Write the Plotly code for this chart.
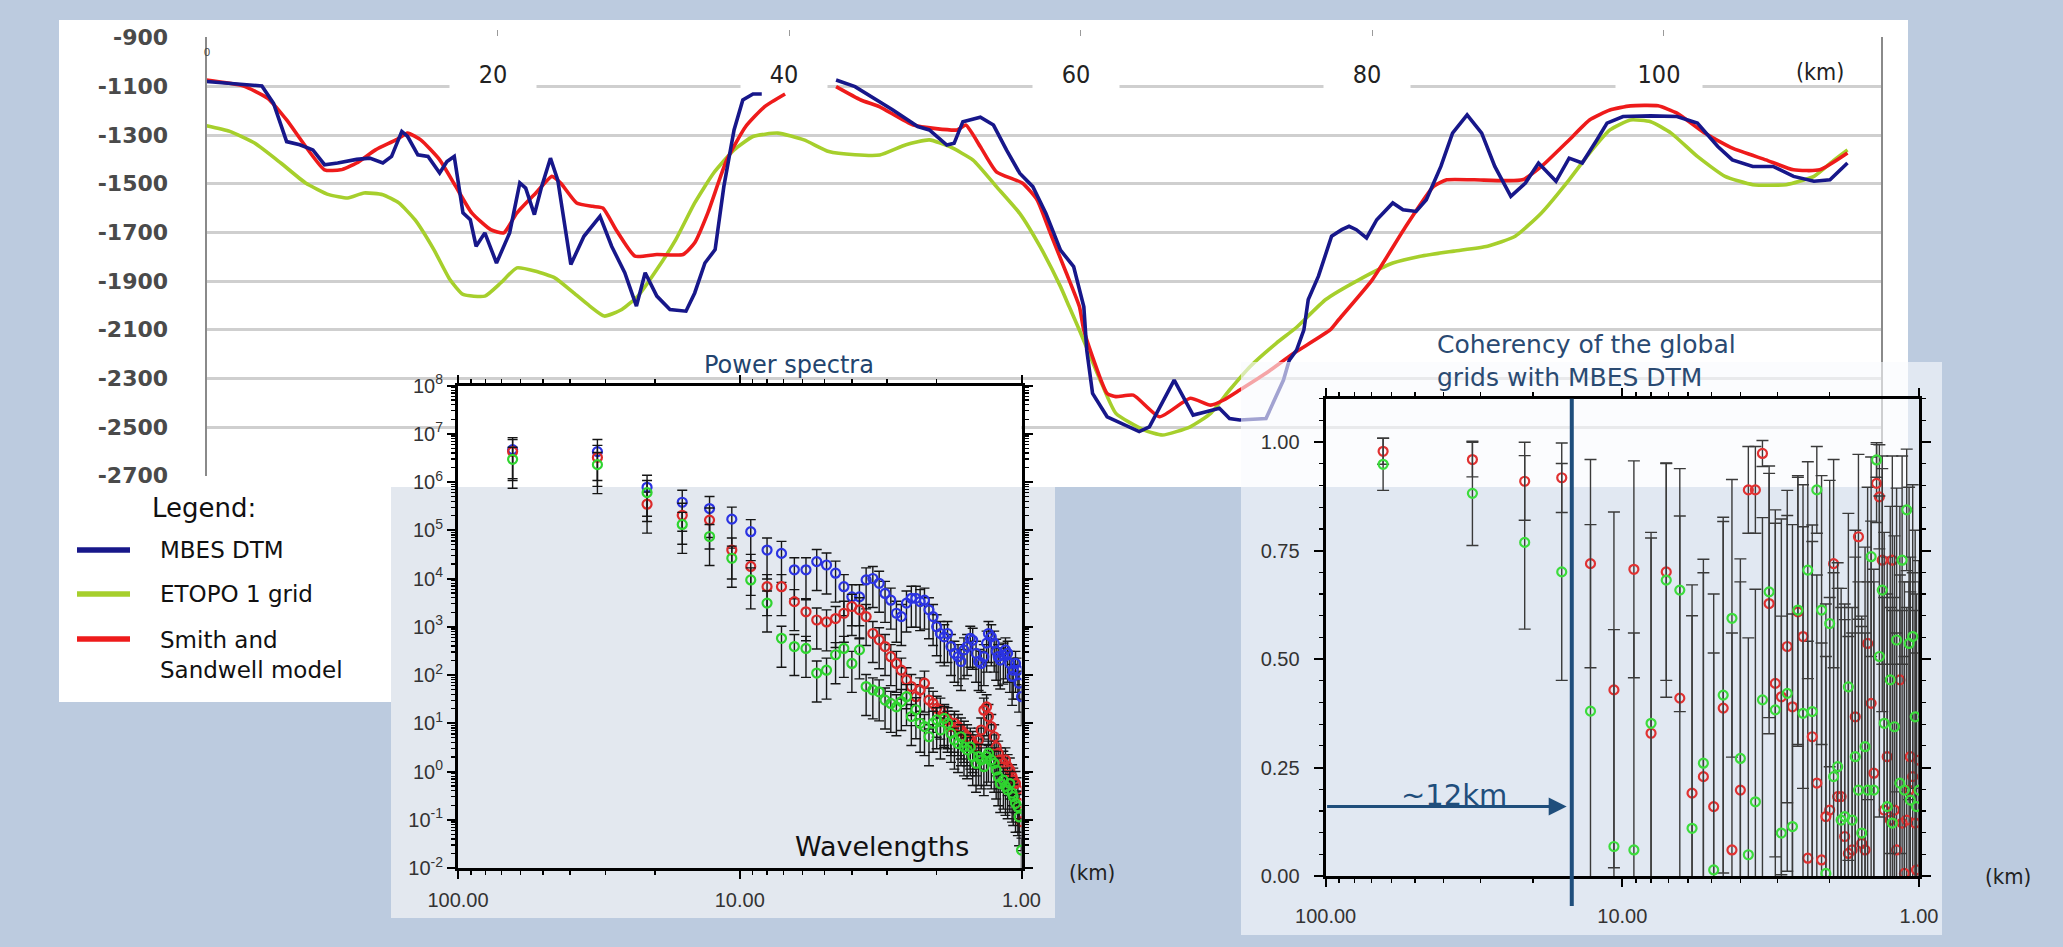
import math
import plotly.graph_objects as go

W, H = 2063, 947

# ---------------- depth profile (top chart) ----------------
PROFILE_TICK_KM = [20, 40, 60, 80, 100]
DEPTH_TICKS = [-900, -1100, -1300, -1500, -1700, -1900, -2100, -2300, -2500, -2700]

MBES_PROFILE = [
    (0, -1080), (3.8, -1098), (4.6, -1170), (5.5, -1327), (6.4, -1340), (7.3, -1361), (8.1, -1422),
    (9.0, -1415), (10.3, -1400), (11.2, -1395), (12.1, -1415), (12.7, -1388), (13.4, -1285), (13.8, -1306),
    (14.5, -1381), (15.2, -1388), (16.0, -1456), (16.5, -1409), (17.0, -1388), (17.6, -1620), (18.1, -1648),
    (18.5, -1757), (19.1, -1702), (19.9, -1826), (20.8, -1702), (21.5, -1497), (21.9, -1518), (22.5, -1627),
    (23.0, -1511), (23.6, -1395), (24.1, -1484), (25.0, -1832), (25.9, -1716), (27.0, -1634), (27.8, -1757),
    (28.7, -1866), (29.5, -2003), (30.1, -1866), (30.9, -1962), (31.8, -2017), (32.9, -2024), (33.5, -1949),
    (34.2, -1826), (34.9, -1771), (35.5, -1511), (36.2, -1279), (36.8, -1156), (37.5, -1131), (38.1, -1131),
    (None, None),
    (43.2, -1074), (44.5, -1101), (47.1, -1197), (48.8, -1265), (49.6, -1279), (50.8, -1341), (51.3, -1334),
    (51.9, -1245), (53.1, -1227), (54.0, -1259), (54.9, -1362), (55.8, -1457), (56.7, -1512), (57.6, -1622),
    (58.6, -1773), (59.5, -1841), (60.2, -2006), (60.4, -2184), (60.8, -2362), (61.8, -2458), (64.0, -2519),
    (64.7, -2499), (66.4, -2307), (67.7, -2451), (68.6, -2437), (69.5, -2423), (70.2, -2465), (70.9, -2471),
    (72.7, -2465), (73.9, -2307), (74.3, -2225), (74.8, -2184), (75.3, -2101), (75.6, -1976), (76.3, -1880),
    (77.2, -1716), (77.9, -1689), (78.4, -1675), (78.9, -1689), (79.6, -1723), (80.3, -1648), (81.4, -1579),
    (82.1, -1607), (83.0, -1614), (83.7, -1566), (84.7, -1429), (85.5, -1292), (86.5, -1217), (87.5, -1292),
    (88.4, -1429), (89.5, -1552), (90.5, -1497), (91.4, -1415), (92.6, -1490), (93.5, -1395), (94.4, -1415),
    (95.4, -1320), (96.1, -1251), (97.2, -1224), (99.1, -1221), (100.9, -1224), (102.3, -1251), (103.7, -1347),
    (104.7, -1402), (106.1, -1429), (107.5, -1429), (108.9, -1470), (110.3, -1490), (111.4, -1484), (112.6, -1415),
]

ETOPO_PROFILE = [
    (0, -1262), (1.6, -1285), (3.3, -1333), (5.1, -1415), (6.8, -1497), (8.4, -1545), (9.7, -1559),
    (10.8, -1538), (12.1, -1545), (13.2, -1579), (14.3, -1648), (15.6, -1771), (16.7, -1894), (17.6, -1955),
    (19.1, -1962), (20.2, -1907), (21.3, -1846), (22.6, -1860), (23.9, -1887), (25.2, -1949), (26.3, -2003),
    (27.3, -2044), (28.5, -2017), (29.6, -1962), (30.9, -1853), (32.2, -1730), (33.5, -1579), (34.8, -1456),
    (36.2, -1361), (37.5, -1306), (39.2, -1292), (41.0, -1320), (42.7, -1368), (44.5, -1381), (46.2, -1382),
    (48.0, -1340), (49.6, -1320), (51.0, -1348), (52.6, -1403), (54.2, -1512), (55.8, -1622), (57.2, -1759),
    (58.6, -1923), (59.2, -2006), (59.9, -2102), (61.4, -2318), (62.4, -2444), (64.3, -2512), (65.6, -2533),
    (67.5, -2499), (68.9, -2444), (70.2, -2348), (71.6, -2252), (73.4, -2156), (74.8, -2090), (76.8, -1976),
    (79.1, -1894), (81.4, -1826), (83.3, -1798), (85.6, -1777), (87.9, -1757), (89.8, -1716), (91.6, -1620),
    (93.5, -1484), (94.9, -1374), (96.3, -1279), (97.7, -1238), (99.1, -1245), (100.5, -1292), (102.3, -1388),
    (104.2, -1470), (106.1, -1504), (108.4, -1504), (110.3, -1470), (111.7, -1402), (112.6, -1361),
]

SS_PROFILE = [
    (0, -1074), (2.5, -1098), (4.2, -1149), (5.5, -1238), (6.8, -1347), (8.1, -1443), (9.2, -1443),
    (10.3, -1415), (11.6, -1361), (13.0, -1320), (13.8, -1292), (14.7, -1320), (16.0, -1402), (17.1, -1511),
    (18.2, -1620), (19.5, -1689), (20.4, -1702), (21.3, -1620), (22.6, -1538), (23.7, -1470), (24.3, -1497),
    (25.4, -1579), (26.5, -1593), (27.2, -1600), (28.1, -1689), (29.4, -1798), (30.9, -1791), (32.7, -1791),
    (33.5, -1743), (34.4, -1620), (35.7, -1402), (37.0, -1265), (38.3, -1183), (39.7, -1131),
    (None, None),
    (43.2, -1101), (44.9, -1156), (46.2, -1184), (48.5, -1259), (51.5, -1279), (52.1, -1259), (53.1, -1348),
    (54.2, -1451), (56.0, -1498), (57.0, -1567), (57.9, -1703), (59.0, -1867), (59.9, -2006), (60.2, -2102),
    (61.8, -2362), (62.4, -2375), (63.6, -2369), (65.4, -2458), (67.5, -2382), (68.9, -2410), (69.8, -2389),
    (70.9, -2348), (72.7, -2279), (74.6, -2197), (77.1, -2101), (77.7, -2058), (80.0, -1894), (82.3, -1675),
    (84.2, -1511), (85.1, -1484), (87.0, -1484), (90.3, -1484), (91.6, -1429), (93.5, -1320), (94.9, -1238),
    (96.3, -1197), (97.7, -1180), (99.6, -1180), (100.9, -1210), (102.8, -1292), (104.7, -1354), (107.0, -1402),
    (108.9, -1443), (110.7, -1443), (112.6, -1374),
]

# ---------------- spectra (bottom charts) ----------------
WAVELENGTH_KM = [64, 32, 21.33, 16, 12.8, 10.67, 9.14, 8, 7.11, 6.4,
                 5.82, 5.33, 4.92, 4.57, 4.27, 4, 3.76, 3.56, 3.37, 3.2,
                 3.05, 2.91, 2.78, 2.67, 2.56, 2.46, 2.37, 2.29, 2.21, 2.13,
                 2.06, 2, 1.94, 1.88, 1.83, 1.78, 1.73, 1.68, 1.64, 1.6,
                 1.56, 1.52, 1.49, 1.45, 1.42, 1.39, 1.36, 1.33, 1.31, 1.28,
                 1.25, 1.23, 1.21, 1.19, 1.16, 1.14, 1.12, 1.10, 1.08, 1.07,
                 1.05, 1.03, 1.02, 1.0]

PSD_LOG10_MBES = [6.67, 6.63, 5.89, 5.58, 5.45, 5.23, 4.97, 4.59, 4.52, 4.18,
                  4.18, 4.35, 4.28, 4.11, 3.83, 3.62, 3.62, 3.97, 4.00, 3.90,
                  3.69, 3.55, 3.28, 3.21, 3.49, 3.59, 3.59, 3.52, 3.55, 3.35,
                  3.21, 3.00, 2.86, 2.79, 2.86, 2.59, 2.45, 2.38, 2.28, 2.52,
                  2.59, 2.76, 2.72, 2.45, 2.28, 2.24, 2.38, 2.66, 2.86, 2.79,
                  2.66, 2.49, 2.38, 2.31, 2.41, 2.52, 2.45, 2.24, 1.97, 2.10,
                  2.24, 2.10, 1.83, 1.55]
PSD_LOG10_SS = [6.63, 6.51, 5.54, 5.31, 5.21, 4.59, 4.25, 3.83, 3.83, 3.52,
                3.31, 3.14, 3.10, 3.17, 3.28, 3.42, 3.35, 3.21, 2.86, 2.73,
                2.59, 2.38, 2.24, 2.10, 1.90, 1.76, 1.55, 1.69, 1.83, 1.48,
                1.41, 1.31, 1.27, 1.14, 1.07, 0.93, 1.00, 0.93, 0.86, 0.79,
                0.72, 0.65, 0.58, 0.51, 0.65, 0.86, 1.27, 1.34, 1.14, 0.93,
                0.72, 0.51, 0.38, 0.24, 0.17, 0.24, 0.10, 0.03, -0.11, -0.18,
                -0.25, -0.38, -0.66, -1.04]
PSD_LOG10_ETOPO = [6.47, 6.36, 5.78, 5.12, 4.87, 4.42, 3.97, 3.49, 2.76, 2.59,
                   2.55, 2.04, 2.10, 2.42, 2.55, 2.24, 2.52, 1.76, 1.69, 1.65,
                   1.48, 1.41, 1.34, 1.45, 1.55, 1.14, 1.28, 1.00, 0.93, 0.72,
                   1.00, 1.07, 0.86, 1.10, 1.00, 0.79, 0.65, 0.58, 0.72, 0.51,
                   0.45, 0.51, 0.31, 0.17, 0.31, 0.24, 0.10, 0.31, 0.38, 0.24,
                   0.17, 0.03, -0.11, -0.25, -0.18, -0.31, -0.38, -0.25, -0.45, -0.52,
                   -0.66, -0.73, -0.94, -1.63]
PSD_ERR_UP_DEC = 0.25     # error bar above each estimate, in decades
PSD_ERR_DOWN_DEC = 0.6    # error bar below each estimate, in decades

COH_SS = [0.979, 0.96, 0.91, 0.918, 0.72, 0.429, 0.707, 0.329, 0.701, 0.41,
          0.191, 0.229, 0.16, 0.387, 0.06, 0.198, 0.89, 0.89, 0.974, 0.628,
          0.444, 0.413, 0.529, 0.39, 0.609, 0.552, 0.041, 0.321, 0.214, 0.037,
          0.137, 0.152, 0.72, 0.183, 0.183, 0.091, 0.052, 0.06, 0.367, 0.782,
          0.075, 0.06, 0.536, 0.398, 0.237, 0.905, 0.874, 0.728, 0.152, 0.275,
          0.129, 0.728, 0.152, 0.06, 0.452, 0.122, 0.006, 0.129, 0.198, 0.275,
          0.229, 0.122, 0.014, 0.267]
COH_SS_ERR = [0.03, 0.04, 0.09, 0.08, 0.24, 0.41, 0.25, 0.45, 0.25, 0.42,
              0.48, 0.47, 0.49, 0.43, 0.50, 0.48, 0.10, 0.10, 0.03, 0.30,
              0.40, 0.41, 0.36, 0.42, 0.31, 0.35, 0.50, 0.45, 0.48, 0.50,
              0.49, 0.49, 0.24, 0.48, 0.48, 0.50, 0.50, 0.50, 0.43, 0.19,
              0.50, 0.50, 0.36, 0.42, 0.47, 0.09, 0.12, 0.24, 0.49, 0.46,
              0.49, 0.24, 0.49, 0.50, 0.40, 0.49, 0.50, 0.49, 0.48, 0.46,
              0.47, 0.49, 0.50, 0.46]
COH_ETOPO = [0.949, 0.882, 0.769, 0.701, 0.38, 0.068, 0.06, 0.352, 0.682, 0.659,
             0.11, 0.26, 0.014, 0.417, 0.594, 0.271, 0.049, 0.171, 0.406, 0.655,
             0.383, 0.099, 0.421, 0.114, 0.613, 0.375, 0.705, 0.379, 0.89, 0.613,
             0.006, 0.582, 0.229, 0.252, 0.129, 0.137, 0.436, 0.129, 0.275, 0.198,
             0.099, 0.298, 0.198, 0.736, 0.198, 0.959, 0.506, 0.659, 0.352, 0.16,
             0.452, 0.122, 0.344, 0.544, 0.214, 0.728, 0.198, 0.844, 0.536, 0.175,
             0.552, 0.367, 0.16, 0.198]
COH_ETOPO_ERR = [0.06, 0.12, 0.20, 0.25, 0.43, 0.50, 0.50, 0.44, 0.27, 0.28,
                 0.49, 0.47, 0.50, 0.41, 0.32, 0.46, 0.50, 0.49, 0.42, 0.29,
                 0.43, 0.50, 0.41, 0.49, 0.31, 0.43, 0.25, 0.43, 0.10, 0.31,
                 0.50, 0.33, 0.47, 0.47, 0.49, 0.49, 0.40, 0.49, 0.46, 0.48,
                 0.50, 0.46, 0.48, 0.23, 0.48, 0.04, 0.37, 0.28, 0.44, 0.49,
                 0.40, 0.49, 0.44, 0.35, 0.48, 0.24, 0.48, 0.14, 0.36, 0.48,
                 0.35, 0.43, 0.49, 0.48]

CUTOFF_KM = 14.8        # vertical marker line position
ARROW_TIP_KM = 15.4
ARROW_LEVEL = 0.16

# ---------------- styling ----------------
C_MBES, C_ETOPO, C_SS = "#17178a", "#a6cf2c", "#ee1b1b"
C_P_BLUE, C_P_RED, C_P_GREEN = "#2b33e2", "#dc2a2a", "#2fd42f"
C_DARKBLUE = "#1f4e7c"
F_SANS = "DejaVu Sans, Verdana, sans-serif"
F_AX = "Liberation Sans, Arial, sans-serif"
F_NARROW = "Liberation Sans Narrow, DejaVu Sans Condensed, Arial Narrow, sans-serif"


def px(x):
    return x / W


def py(y):
    return 1 - y / H


def unzip(pairs):
    return [p[0] for p in pairs], [p[1] for p in pairs]


fig = go.Figure()

# ---- top profile ----
for pairs, color, shape, name in [(ETOPO_PROFILE, C_ETOPO, "spline", "ETOPO 1 grid"),
                                  (SS_PROFILE, C_SS, "spline", "Smith and Sandwell model"),
                                  (MBES_PROFILE, C_MBES, "linear", "MBES DTM")]:
    xs, ys = unzip(pairs)
    fig.add_trace(go.Scatter(x=xs, y=ys, mode="lines", name=name, connectgaps=False,
                             line=dict(color=color, width=3.6, shape=shape, smoothing=0.5),
                             xaxis="x", yaxis="y", hoverinfo="skip"))

# ---- power spectra ----
for logs, color in [(PSD_LOG10_MBES, C_P_BLUE), (PSD_LOG10_SS, C_P_RED), (PSD_LOG10_ETOPO, C_P_GREEN)]:
    vals = [10 ** v for v in logs]
    fig.add_trace(go.Scatter(
        x=WAVELENGTH_KM, y=vals, mode="markers", xaxis="x2", yaxis="y2", hoverinfo="skip",
        marker=dict(symbol="circle-open", size=9, color=color, line=dict(width=2.2, color=color)),
        error_y=dict(type="data", symmetric=False,
                     array=[v * (10 ** PSD_ERR_UP_DEC - 1) for v in vals],
                     arrayminus=[v * (1 - 10 ** -PSD_ERR_DOWN_DEC) for v in vals],
                     color="#151515", thickness=1.4, width=5)))

# ---- backdrop subplot for the coherency panel (fades the profile beneath) ----
fig.add_trace(go.Scatter(x=[], y=[], xaxis="x3", yaxis="y3", hoverinfo="skip"))

# ---- coherency ----
for vals, errs, color in [(COH_SS, COH_SS_ERR, "#e03232"), (COH_ETOPO, COH_ETOPO_ERR, "#3cdc3c")]:
    fig.add_trace(go.Scatter(
        x=WAVELENGTH_KM, y=vals, mode="markers", xaxis="x4", yaxis="y4", hoverinfo="skip",
        marker=dict(symbol="circle-open", size=9, color=color, line=dict(width=2.2, color=color)),
        error_y=dict(type="data", array=errs, color="#3a3a3a", thickness=1.4, width=6)))

log_minor = [m * 10 ** e for e in range(0, 2) for m in range(2, 10)]
psd_minor = [m * 10 ** e for e in range(-2, 8) for m in range(2, 10)]
psd_ticks = [10 ** e for e in range(-2, 9)]
psd_text = ["10<sup>%d</sup>" % e for e in range(-2, 9)]

spec_x = dict(type="log", range=[2, 0], autorange=False, showgrid=False, zeroline=False,
              showline=True, linecolor="black", linewidth=3, mirror="allticks", automargin=False,
              ticks="outside", ticklen=8, tickwidth=2, tickcolor="black",
              tickvals=[100, 10, 1], ticktext=["100.00", "10.00", "1.00"],
              minor=dict(tickvals=log_minor, ticks="outside", ticklen=4, tickwidth=1.5, tickcolor="black"),
              tickfont=dict(family=F_AX, size=20, color="#333"))

fig.update_layout(
    width=W, height=H, margin=dict(l=0, r=0, t=0, b=0, pad=0, autoexpand=False),
    paper_bgcolor="#bccbdf", plot_bgcolor="rgba(0,0,0,0)",
    showlegend=False, hovermode=False,
    xaxis=dict(domain=[px(206.5), px(1881)], range=[0, 114.9], anchor="y", side="top", automargin=False,
               showgrid=False, zeroline=False, showline=False, ticks="outside",
               tickvals=PROFILE_TICK_KM, ticklen=6, tickcolor="#9a9a9a", showticklabels=False),
    yaxis=dict(domain=[py(476.4), py(37.0)], range=[-2703, -897], anchor="x", automargin=False,
               tickvals=DEPTH_TICKS, ticktext=[str(v) for v in DEPTH_TICKS],
               showgrid=True, gridcolor="#cfcfcf", gridwidth=3, zeroline=False,
               showline=True, linecolor="#8a8a8a", linewidth=2, mirror=True, ticks="",
               ticklabelstandoff=32,
               tickfont=dict(family=F_SANS, size=22, color="#4a4a4a", weight="bold")),
    xaxis2=dict(domain=[px(458), px(1021.5)], anchor="y2", ticklabelstandoff=4, **spec_x),
    yaxis2=dict(domain=[py(868), py(385.5)], anchor="x2", type="log", range=[-2, 8], autorange=False,
                showgrid=False, zeroline=False, showline=True, linecolor="black", linewidth=3,
                mirror="allticks", ticks="outside", ticklen=8, tickwidth=2, tickcolor="black",
                tickvals=psd_ticks, ticktext=psd_text, automargin=False,
                minor=dict(tickvals=psd_minor, ticks="outside", ticklen=4, tickwidth=1.2, tickcolor="black"),
                tickfont=dict(family=F_AX, size=20, color="#333")),
    xaxis3=dict(domain=[px(1241), px(1942)], range=[0, 1], anchor="y3", visible=False, automargin=False),
    yaxis3=dict(domain=[py(935), py(362)], range=[0, 1], anchor="x3", visible=False, automargin=False),
    xaxis4=dict(domain=[px(1325.6), px(1919)], anchor="y4", ticklabelstandoff=12, **spec_x),
    yaxis4=dict(domain=[py(876), py(398.8)], anchor="x4", range=[0, 1.1], autorange=False, automargin=False,
                showgrid=False, zeroline=False, showline=True, linecolor="black", linewidth=3,
                mirror="allticks", ticks="outside", ticklen=9, tickwidth=2, tickcolor="black",
                tickvals=[0, 0.25, 0.5, 0.75, 1.0], ticktext=["0.00", "0.25", "0.50", "0.75", "1.00"],
                minor=dict(dtick=0.05, tick0=0, ticks="outside", ticklen=4, tickwidth=1.2, tickcolor="black"),
                ticklabelstandoff=10, tickfont=dict(family=F_AX, size=20, color="#333")),
)

shapes = [
    # white slide panel behind the profile and legend
    dict(type="rect", xref="paper", yref="paper", x0=px(59), x1=px(1908), y0=py(487), y1=py(20),
         fillcolor="white", line=dict(width=0), layer="below"),
    dict(type="rect", xref="paper", yref="paper", x0=px(59), x1=px(391), y0=py(702), y1=py(487),
         fillcolor="white", line=dict(width=0), layer="below"),
    # power spectra panel
    dict(type="rect", xref="paper", yref="paper", x0=px(391), x1=px(1055), y0=py(918), y1=py(487),
         fillcolor="#e3e8ef", line=dict(width=0), layer="below"),
    # white inside the power-spectra frame where it overlaps the profile
    dict(type="rect", xref="x2", yref="y2", x0=100, x1=1, y0=10 ** 5.9, y1=1e8,
         fillcolor="white", line=dict(width=0), layer="between"),
    # translucent coherency panel
    dict(type="rect", xref="x3", yref="y3", x0=0, x1=1, y0=0, y1=1,
         fillcolor="rgba(249,250,253,0.62)", line=dict(width=0), layer="between"),
    # ~12 km cut-off line
    dict(type="line", xref="x4", yref="paper", x0=CUTOFF_KM, x1=CUTOFF_KM, y0=py(906), y1=py(398.8),
         line=dict(color=C_DARKBLUE, width=4), layer="above"),
]
# legend swatches
for yy, col in [(550, C_MBES), (594, C_ETOPO), (639, C_SS)]:
    shapes.append(dict(type="line", xref="paper", yref="paper", x0=px(77), x1=px(130), y0=py(yy), y1=py(yy),
                       line=dict(color=col, width=5.5), layer="above"))
fig.update_layout(shapes=shapes)


def note(X, Y, text, size, color="#111", family=F_SANS, xanchor="center", **kw):
    return dict(x=px(X), y=py(Y), xref="paper", yref="paper", text=text, showarrow=False,
                xanchor=xanchor, yanchor="middle", font=dict(family=family, size=size, color=color), **kw)


ann = []
for km in PROFILE_TICK_KM:
    ann.append(dict(x=km, xref="x", y=py(74), yref="paper", text=str(km), showarrow=False,
                    xanchor="center", yanchor="middle",
                    font=dict(family=F_NARROW, size=25, color="#222"), bgcolor="white",
                    width=84, height=30, xshift=-5))
ann += [
    dict(x=110.7, xref="x", y=py(72), yref="paper", text="(km)", showarrow=False,
         xanchor="center", yanchor="middle", font=dict(family=F_NARROW, size=23, color="#222")),
    dict(x=0, xref="x", y=py(52), yref="paper", text="0", showarrow=False,
         xanchor="center", yanchor="middle", font=dict(family=F_AX, size=11, color="#444")),
    note(150, 508, "Legend:", 26, xanchor="left"),
    note(158, 550, "MBES DTM", 23, xanchor="left"),
    note(158, 594, "ETOPO 1 grid", 23, xanchor="left"),
    note(158, 655, "Smith and<br>Sandwell model", 23, xanchor="left", align="left"),
    note(789, 365, "Power spectra", 24, color="#22446e"),
    note(793, 846, "Wavelengths", 27, xanchor="left"),
    note(1092, 872, "(km)", 22, color="#222", family=F_NARROW),
    note(2008, 876, "(km)", 22, color="#222", family=F_NARROW),
    note(1435, 361, "Coherency of the global<br>grids with MBES DTM", 25, color="#2a4a72",
         xanchor="left", align="left"),
    note(1454, 795, "~12km", 29, color=C_DARKBLUE),
    dict(x=math.log10(ARROW_TIP_KM), y=ARROW_LEVEL, xref="x4", yref="y4",
         ax=2, ay=ARROW_LEVEL, axref="x4", ayref="y4", text="", showarrow=True,
         arrowhead=2, arrowsize=1.2, arrowwidth=3, arrowcolor=C_DARKBLUE),
]
fig.update_layout(annotations=ann)

fig.write_html("out.html", config={"displayModeBar": False, "staticPlot": True},
               post_script="document.body.style.margin='0';")
